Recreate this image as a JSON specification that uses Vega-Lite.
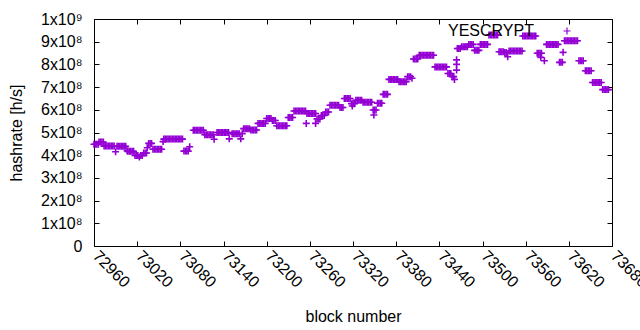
{
"$schema":"https://vega.github.io/schema/vega-lite/v6.json",
"width":518,"height":227,
"autosize":{"type":"none"},
"padding":{"left":94,"top":19,"right":28,"bottom":85},
"config":{"view":{"stroke":"black","strokeWidth":1},"font":"Liberation Sans","axis":{"grid":false,"domain":false,"tickColor":"black","labelColor":"black","titleColor":"black","labelFontSize":16,"titleFontSize":16,"titleFontWeight":"normal","tickSize":-5}},
"data":{"values":[
{"b":72960,"h":4.48e8},{"b":72962,"h":4.48e8},{"b":72964,"h":4.48e8},{"b":72966,"h":4.48e8},
{"b":72967,"h":4.58e8},{"b":72969,"h":4.58e8},{"b":72971,"h":4.58e8},{"b":72973,"h":4.58e8},
{"b":72974,"h":4.40e8},{"b":72976,"h":4.40e8},{"b":72978,"h":4.40e8},{"b":72980,"h":4.40e8},{"b":72982,"h":4.40e8},{"b":72984,"h":4.40e8},{"b":72986,"h":4.40e8},{"b":72988,"h":4.40e8},
{"b":72990,"h":4.15e8},
{"b":72992,"h":4.39e8},{"b":72994,"h":4.39e8},{"b":72996,"h":4.39e8},{"b":72998,"h":4.39e8},{"b":73000,"h":4.39e8},{"b":73002,"h":4.39e8},{"b":73004,"h":4.39e8},
{"b":73006,"h":4.2e8},
{"b":73007,"h":4.17e8},{"b":73009,"h":4.17e8},{"b":73011,"h":4.17e8},{"b":73013,"h":4.17e8},{"b":73015,"h":4.17e8},
{"b":73017,"h":3.99e8},{"b":73019,"h":3.99e8},{"b":73021,"h":3.99e8},{"b":73023,"h":3.92e8},{"b":73025,"h":3.99e8},{"b":73027,"h":3.99e8},
{"b":73029,"h":4.1e8},{"b":73031,"h":4.1e8},{"b":73033,"h":4.1e8},
{"b":73034,"h":4.33e8},
{"b":73036,"h":4.52e8},{"b":73038,"h":4.52e8},{"b":73040,"h":4.52e8},
{"b":73042,"h":4.26e8},{"b":73044,"h":4.26e8},{"b":73046,"h":4.26e8},{"b":73048,"h":4.26e8},{"b":73050,"h":4.26e8},{"b":73052,"h":4.26e8},{"b":73054,"h":4.26e8},
{"b":73056,"h":4.6e8},
{"b":73057,"h":4.71e8},{"b":73059,"h":4.71e8},{"b":73061,"h":4.71e8},{"b":73063,"h":4.71e8},{"b":73065,"h":4.71e8},{"b":73067,"h":4.71e8},{"b":73069,"h":4.71e8},{"b":73071,"h":4.71e8},{"b":73073,"h":4.71e8},{"b":73075,"h":4.71e8},{"b":73077,"h":4.71e8},{"b":73079,"h":4.71e8},{"b":73081,"h":4.71e8},{"b":73083,"h":4.71e8},
{"b":73085,"h":4.18e8},{"b":73087,"h":4.18e8},{"b":73089,"h":4.18e8},{"b":73091,"h":4.18e8},
{"b":73093,"h":4.37e8},
{"b":73098,"h":5.1e8},{"b":73100,"h":5.1e8},{"b":73102,"h":5.1e8},{"b":73104,"h":5.1e8},{"b":73106,"h":5.1e8},{"b":73108,"h":5.1e8},{"b":73110,"h":5.1e8},{"b":73112,"h":5.1e8},
{"b":73114,"h":4.9e8},{"b":73116,"h":4.9e8},{"b":73118,"h":4.9e8},{"b":73120,"h":4.9e8},{"b":73122,"h":4.9e8},{"b":73124,"h":4.9e8},{"b":73126,"h":4.9e8},{"b":73127,"h":4.7e8},
{"b":73131,"h":5.0e8},{"b":73133,"h":5.0e8},{"b":73135,"h":5.0e8},{"b":73137,"h":5.0e8},{"b":73139,"h":5.0e8},{"b":73141,"h":5.0e8},{"b":73143,"h":5.0e8},{"b":73145,"h":5.0e8},{"b":73147,"h":5.0e8},{"b":73148,"h":4.72e8},
{"b":73152,"h":4.95e8},{"b":73154,"h":4.95e8},{"b":73156,"h":4.95e8},{"b":73158,"h":4.95e8},{"b":73160,"h":4.95e8},{"b":73162,"h":4.95e8},{"b":73164,"h":4.72e8},{"b":73166,"h":4.95e8},
{"b":73168,"h":5.17e8},{"b":73170,"h":5.17e8},{"b":73172,"h":5.17e8},{"b":73174,"h":5.17e8},{"b":73176,"h":5.17e8},
{"b":73178,"h":5.11e8},{"b":73180,"h":5.11e8},{"b":73182,"h":5.11e8},{"b":73184,"h":5.11e8},{"b":73186,"h":5.11e8},
{"b":73188,"h":5.4e8},{"b":73190,"h":5.4e8},{"b":73192,"h":5.4e8},{"b":73194,"h":5.4e8},{"b":73196,"h":5.4e8},{"b":73198,"h":5.4e8},
{"b":73200,"h":5.62e8},{"b":73202,"h":5.62e8},{"b":73204,"h":5.62e8},{"b":73206,"h":5.62e8},
{"b":73208,"h":5.53e8},{"b":73210,"h":5.53e8},{"b":73212,"h":5.53e8},
{"b":73214,"h":5.3e8},{"b":73216,"h":5.3e8},{"b":73218,"h":5.3e8},{"b":73220,"h":5.3e8},{"b":73222,"h":5.3e8},{"b":73224,"h":5.3e8},{"b":73226,"h":5.3e8},{"b":73228,"h":5.3e8},
{"b":73230,"h":5.66e8},{"b":73232,"h":5.66e8},{"b":73234,"h":5.66e8},{"b":73236,"h":5.66e8},
{"b":73238,"h":5.95e8},{"b":73240,"h":5.95e8},{"b":73242,"h":5.95e8},{"b":73244,"h":5.95e8},{"b":73246,"h":5.95e8},{"b":73248,"h":5.95e8},{"b":73250,"h":5.95e8},{"b":73252,"h":5.95e8},{"b":73254,"h":5.95e8},
{"b":73255,"h":5.4e8},
{"b":73256,"h":5.84e8},{"b":73258,"h":5.84e8},{"b":73260,"h":5.84e8},{"b":73262,"h":5.84e8},{"b":73264,"h":5.84e8},{"b":73266,"h":5.84e8},{"b":73268,"h":5.84e8},{"b":73268,"h":5.4e8},
{"b":73270,"h":5.6e8},{"b":73272,"h":5.6e8},{"b":73274,"h":5.6e8},
{"b":73276,"h":5.75e8},{"b":73278,"h":5.75e8},{"b":73280,"h":5.75e8},
{"b":73282,"h":5.9e8},{"b":73284,"h":5.9e8},{"b":73286,"h":5.9e8},
{"b":73288,"h":6.2e8},{"b":73290,"h":6.2e8},{"b":73292,"h":6.2e8},{"b":73294,"h":6.2e8},{"b":73296,"h":6.2e8},{"b":73298,"h":6.2e8},{"b":73300,"h":6.2e8},
{"b":73302,"h":6.1e8},{"b":73304,"h":6.1e8},{"b":73306,"h":6.1e8},
{"b":73308,"h":6.5e8},{"b":73310,"h":6.5e8},{"b":73312,"h":6.5e8},{"b":73314,"h":6.5e8},{"b":73316,"h":6.5e8},
{"b":73318,"h":6.27e8},{"b":73319,"h":6.17e8},{"b":73320,"h":6.27e8},{"b":73322,"h":6.27e8},
{"b":73324,"h":6.42e8},{"b":73326,"h":6.42e8},{"b":73328,"h":6.42e8},{"b":73330,"h":6.42e8},{"b":73332,"h":6.42e8},
{"b":73334,"h":6.33e8},{"b":73336,"h":6.33e8},{"b":73338,"h":6.33e8},{"b":73340,"h":6.33e8},{"b":73342,"h":6.33e8},{"b":73344,"h":6.33e8},{"b":73346,"h":6.33e8},
{"b":73348,"h":5.99e8},{"b":73349,"h":5.77e8},{"b":73350,"h":5.99e8},{"b":73352,"h":5.99e8},
{"b":73354,"h":6.29e8},{"b":73356,"h":6.29e8},{"b":73358,"h":6.29e8},{"b":73360,"h":6.29e8},
{"b":73362,"h":6.68e8},{"b":73364,"h":6.68e8},{"b":73366,"h":6.68e8},{"b":73368,"h":6.68e8},
{"b":73370,"h":7.34e8},{"b":73372,"h":7.34e8},{"b":73374,"h":7.34e8},{"b":73376,"h":7.34e8},{"b":73378,"h":7.34e8},{"b":73380,"h":7.34e8},{"b":73382,"h":7.34e8},
{"b":73384,"h":7.24e8},{"b":73386,"h":7.24e8},{"b":73388,"h":7.24e8},{"b":73390,"h":7.24e8},{"b":73392,"h":7.24e8},{"b":73394,"h":7.24e8},
{"b":73396,"h":7.46e8},{"b":73398,"h":7.46e8},{"b":73400,"h":7.46e8},{"b":73402,"h":7.39e8},
{"b":73404,"h":8.24e8},{"b":73406,"h":8.24e8},{"b":73408,"h":8.24e8},{"b":73410,"h":8.24e8},
{"b":73412,"h":8.4e8},{"b":73414,"h":8.4e8},{"b":73416,"h":8.4e8},{"b":73418,"h":8.4e8},{"b":73420,"h":8.4e8},{"b":73422,"h":8.4e8},{"b":73424,"h":8.4e8},{"b":73426,"h":8.4e8},{"b":73428,"h":8.4e8},{"b":73430,"h":8.4e8},{"b":73432,"h":8.4e8},
{"b":73434,"h":7.89e8},{"b":73436,"h":7.89e8},{"b":73438,"h":7.89e8},{"b":73440,"h":7.89e8},{"b":73442,"h":7.89e8},{"b":73444,"h":7.89e8},{"b":73446,"h":7.89e8},{"b":73448,"h":7.89e8},{"b":73450,"h":7.89e8},
{"b":73452,"h":7.6e8},{"b":73454,"h":7.6e8},{"b":73456,"h":7.6e8},
{"b":73458,"h":7.46e8},{"b":73460,"h":7.46e8},{"b":73461,"h":7.34e8},
{"b":73464,"h":8.2e8},{"b":73464,"h":8.0e8},{"b":73464,"h":7.75e8},
{"b":73465,"h":8.7e8},{"b":73467,"h":8.7e8},{"b":73469,"h":8.7e8},
{"b":73471,"h":8.78e8},{"b":73473,"h":8.78e8},{"b":73475,"h":8.78e8},{"b":73477,"h":8.78e8},{"b":73479,"h":8.78e8},
{"b":73481,"h":8.88e8},{"b":73483,"h":8.88e8},{"b":73485,"h":8.88e8},{"b":73487,"h":8.88e8},
{"b":73489,"h":8.62e8},{"b":73491,"h":8.62e8},{"b":73493,"h":8.62e8},{"b":73495,"h":8.62e8},
{"b":73497,"h":8.88e8},{"b":73499,"h":8.88e8},{"b":73501,"h":8.88e8},{"b":73503,"h":8.88e8},{"b":73505,"h":8.88e8},{"b":73507,"h":8.88e8},
{"b":73509,"h":9.3e8},{"b":73511,"h":9.3e8},{"b":73513,"h":9.3e8},{"b":73515,"h":9.3e8},{"b":73517,"h":9.3e8},{"b":73519,"h":9.3e8},{"b":73521,"h":9.3e8},
{"b":73523,"h":8.56e8},{"b":73525,"h":8.56e8},{"b":73527,"h":8.56e8},{"b":73529,"h":8.56e8},{"b":73531,"h":8.52e8},{"b":73533,"h":8.52e8},{"b":73535,"h":8.34e8},
{"b":73537,"h":8.59e8},{"b":73539,"h":8.59e8},{"b":73541,"h":8.59e8},{"b":73543,"h":8.59e8},{"b":73545,"h":8.59e8},{"b":73547,"h":8.59e8},{"b":73549,"h":8.59e8},{"b":73551,"h":8.59e8},{"b":73553,"h":8.59e8},{"b":73555,"h":8.59e8},
{"b":73556,"h":9.25e8},{"b":73558,"h":9.25e8},{"b":73560,"h":9.25e8},{"b":73562,"h":9.25e8},{"b":73564,"h":9.25e8},{"b":73566,"h":9.25e8},{"b":73568,"h":9.25e8},{"b":73570,"h":9.25e8},{"b":73572,"h":9.25e8},{"b":73574,"h":9.25e8},
{"b":73576,"h":8.49e8},{"b":73578,"h":8.49e8},{"b":73580,"h":8.49e8},{"b":73581,"h":8.31e8},{"b":73582,"h":8.49e8},{"b":73586,"h":8.16e8},
{"b":73589,"h":8.88e8},{"b":73591,"h":8.88e8},{"b":73593,"h":8.88e8},{"b":73595,"h":8.88e8},{"b":73597,"h":8.88e8},{"b":73599,"h":8.88e8},{"b":73601,"h":8.88e8},{"b":73603,"h":8.88e8},{"b":73605,"h":8.88e8},
{"b":73607,"h":8.09e8},{"b":73609,"h":8.09e8},{"b":73611,"h":8.09e8},{"b":73612,"h":8.53e8},
{"b":73614,"h":9.04e8},{"b":73616,"h":9.04e8},{"b":73618,"h":9.04e8},{"b":73620,"h":9.04e8},{"b":73622,"h":9.04e8},{"b":73624,"h":9.04e8},{"b":73626,"h":9.04e8},{"b":73628,"h":9.04e8},{"b":73630,"h":9.04e8},{"b":73632,"h":9.04e8},
{"b":73634,"h":8.16e8},{"b":73636,"h":8.16e8},{"b":73638,"h":8.16e8},{"b":73640,"h":8.16e8},
{"b":73643,"h":7.72e8},{"b":73645,"h":7.72e8},{"b":73647,"h":7.72e8},{"b":73649,"h":7.72e8},{"b":73651,"h":7.72e8},
{"b":73653,"h":7.2e8},{"b":73655,"h":7.2e8},{"b":73657,"h":7.2e8},{"b":73659,"h":7.2e8},{"b":73661,"h":7.2e8},{"b":73663,"h":7.2e8},{"b":73665,"h":7.2e8},
{"b":73667,"h":6.89e8},{"b":73669,"h":6.89e8},{"b":73671,"h":6.89e8},{"b":73673,"h":6.89e8},{"b":73675,"h":6.89e8}
]},
"layer":[
{"mark":{"type":"point","shape":"M-1,0H1M0,-1V1","filled":false,"strokeWidth":1.6,"size":49,"opacity":1},
 "encoding":{
  "x":{"field":"b","type":"quantitative","scale":{"domain":[72960,73680],"nice":false,"zero":false},
       "axis":{"title":"block number","values":[72960,73020,73080,73140,73200,73260,73320,73380,73440,73500,73560,73620,73680],"format":"d","labelAngle":45,"labelAlign":"left","labelBaseline":"middle","labelPadding":12,"labelOffset":1,"labelFlush":false,"labelOverlap":false,"titlePadding":18}},
  "y":{"field":"h","type":"quantitative","scale":{"domain":[0,1e9],"nice":false},
       "axis":{"title":"hashrate [h/s]","values":[0,1e8,2e8,3e8,4e8,5e8,6e8,7e8,8e8,9e8,1e9],"labelExpr":"datum.value == 0 ? '0' : (datum.value >= 1e9 ? '1x10⁹' : format(round(datum.value/1e8),'d') + 'x10⁸')","labelPadding":17,"titlePadding":16,"labelFlush":false}},
  "color":{"datum":"YESCRYPT","type":"nominal","scale":{"range":["#9400d3"]},
   "legend":{"title":null,"orient":"none","legendX":354,"legendY":4,"labelFontSize":16,"labelColor":"black","symbolType":"M-1,0H1M0,-1V1","symbolSize":49,"symbolStrokeWidth":1.2,"symbolFillColor":"transparent","symbolOffset":111,"labelOffset":-127}}
 }},
{"mark":{"type":"point","opacity":0},
 "encoding":{
  "x":{"field":"b","type":"quantitative","axis":{"orient":"top","labels":false,"title":null,"values":[72960,73020,73080,73140,73200,73260,73320,73380,73440,73500,73560,73620,73680]}},
  "y":{"field":"h","type":"quantitative","axis":{"orient":"right","labels":false,"title":null,"values":[0,1e8,2e8,3e8,4e8,5e8,6e8,7e8,8e8,9e8,1e9]}}
 }}
],
"resolve":{"axis":{"x":"independent","y":"independent"}}
}
